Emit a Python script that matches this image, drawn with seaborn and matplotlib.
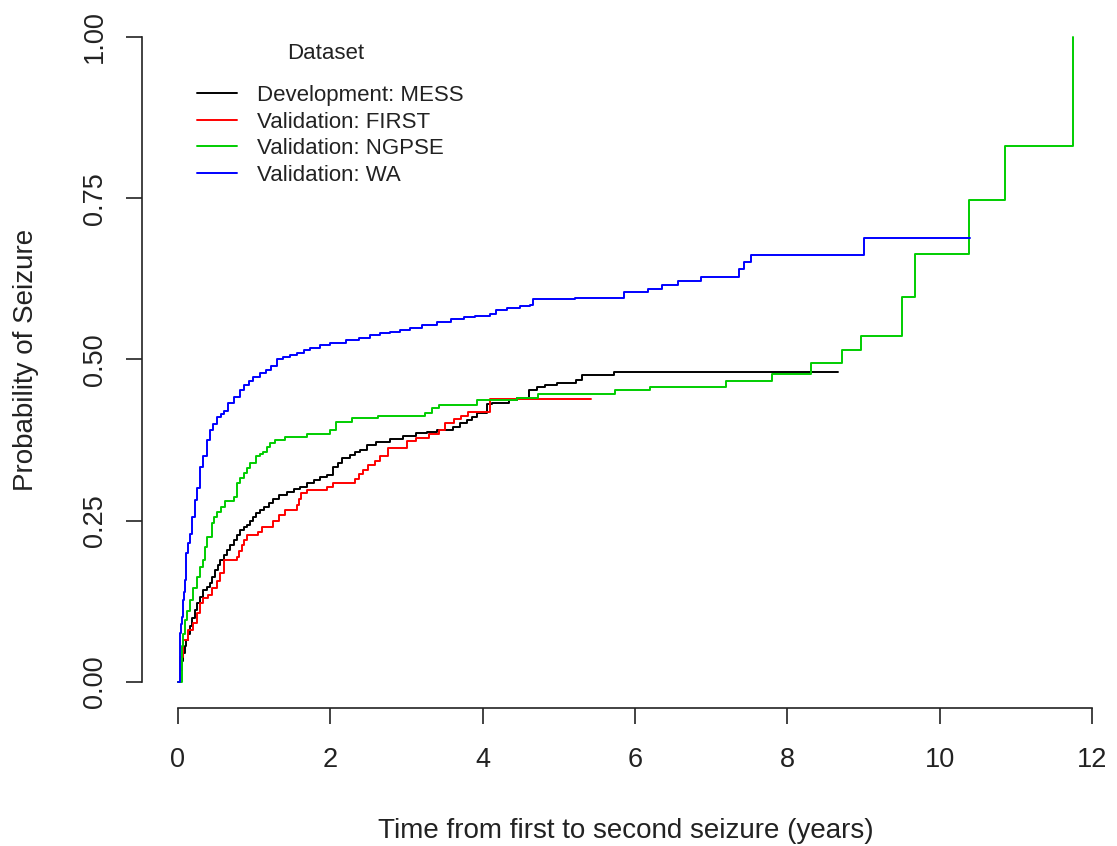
import numpy as np
import pandas as pd
import matplotlib
matplotlib.use("Agg")
import matplotlib.pyplot as plt
import seaborn as sns

# ---------------- data ----------------
datasets = ["Development: MESS", "Validation: FIRST", "Validation: NGPSE", "Validation: WA"]
colors = ["#000000", "#FF0000", "#00CD00", "#0000FF"]

mess_time = [0, 0.03, 0.05, 0.07, 0.09, 0.11, 0.13, 0.16, 0.19, 0.22, 0.25, 0.29, 0.33, 0.38,
             0.42, 0.45, 0.49, 0.52, 0.55, 0.60, 0.64, 0.68, 0.73, 0.77, 0.81, 0.86, 0.90, 0.95,
             0.99, 1.03, 1.08, 1.13, 1.19, 1.25, 1.32, 1.43, 1.52, 1.60, 1.70, 1.78, 1.87, 1.95,
             2.04, 2.10, 2.15, 2.26, 2.33, 2.39, 2.48, 2.60, 2.78, 2.95, 3.13, 3.27, 3.40, 3.61,
             3.70, 3.79, 3.86, 3.92, 4.05, 4.12, 4.34, 4.45, 4.61, 4.71, 4.82, 4.98, 5.23, 5.30,
             5.72, 8.66]
mess_prob = [0, 0.019, 0.032, 0.045, 0.055, 0.065, 0.075, 0.086, 0.099, 0.112, 0.122, 0.132,
             0.143, 0.148, 0.153, 0.163, 0.174, 0.181, 0.189, 0.197, 0.205, 0.212, 0.220, 0.228,
             0.236, 0.240, 0.243, 0.250, 0.256, 0.262, 0.267, 0.272, 0.277, 0.283, 0.290, 0.295,
             0.299, 0.303, 0.308, 0.313, 0.317, 0.321, 0.334, 0.340, 0.347, 0.352, 0.356, 0.360,
             0.368, 0.372, 0.377, 0.381, 0.386, 0.388, 0.391, 0.396, 0.401, 0.406, 0.411, 0.417,
             0.431, 0.433, 0.437, 0.440, 0.452, 0.458, 0.461, 0.463, 0.468, 0.476, 0.481, 0.481]

first_time = [0, 0.03, 0.07, 0.13, 0.20, 0.25, 0.29, 0.33, 0.40, 0.44, 0.51, 0.55, 0.60, 0.77,
              0.80, 0.84, 0.87, 0.90, 1.05, 1.10, 1.25, 1.32, 1.40, 1.56, 1.59, 1.62, 1.69, 1.95,
              2.04, 2.32, 2.38, 2.43, 2.50, 2.59, 2.65, 2.76, 3.00, 3.13, 3.30, 3.42, 3.51, 3.62,
              3.72, 3.81, 4.09, 5.42]
first_prob = [0, 0.039, 0.065, 0.081, 0.091, 0.107, 0.122, 0.130, 0.135, 0.146, 0.156, 0.169,
              0.189, 0.194, 0.203, 0.212, 0.220, 0.228, 0.233, 0.241, 0.249, 0.259, 0.267, 0.274,
              0.284, 0.293, 0.297, 0.302, 0.308, 0.315, 0.322, 0.329, 0.337, 0.342, 0.351, 0.362,
              0.373, 0.379, 0.385, 0.391, 0.402, 0.408, 0.413, 0.419, 0.439, 0.439]

ngpse_time = [0, 0.05, 0.07, 0.09, 0.12, 0.16, 0.20, 0.25, 0.29, 0.33, 0.36, 0.38, 0.44, 0.47,
              0.51, 0.56, 0.62, 0.73, 0.77, 0.81, 0.86, 0.91, 0.95, 1.03, 1.08, 1.12, 1.17, 1.21,
              1.27, 1.40, 1.69, 2.00, 2.08, 2.28, 2.63, 3.24, 3.33, 3.42, 3.92, 4.45, 4.73, 5.74,
              6.20, 7.20, 7.80, 8.31, 8.72, 8.97, 9.50, 9.68, 10.38, 10.86, 11.75]
ngpse_prob = [0, 0.055, 0.075, 0.096, 0.110, 0.127, 0.145, 0.163, 0.178, 0.189, 0.210, 0.225,
              0.246, 0.256, 0.264, 0.272, 0.280, 0.287, 0.308, 0.316, 0.324, 0.332, 0.339, 0.350,
              0.354, 0.357, 0.364, 0.370, 0.375, 0.380, 0.385, 0.391, 0.403, 0.409, 0.412, 0.417,
              0.424, 0.429, 0.437, 0.441, 0.447, 0.453, 0.458, 0.466, 0.478, 0.494, 0.515, 0.536,
              0.597, 0.663, 0.747, 0.831, 1.000]

wa_time = [0, 0.026, 0.04, 0.05, 0.06, 0.07, 0.08, 0.09, 0.10, 0.11, 0.13, 0.16, 0.19, 0.22,
           0.25, 0.29, 0.33, 0.38, 0.42, 0.46, 0.51, 0.56, 0.60, 0.66, 0.73, 0.81, 0.86, 0.93,
           0.99, 1.08, 1.16, 1.22, 1.30, 1.38, 1.47, 1.56, 1.65, 1.73, 1.86, 2.00, 2.21, 2.37,
           2.52, 2.65, 2.78, 2.92, 3.05, 3.20, 3.40, 3.58, 3.75, 3.90, 4.10, 4.18, 4.32, 4.49,
           4.62, 4.66, 5.21, 5.85, 6.17, 6.35, 6.57, 6.87, 7.37, 7.43, 7.52, 9.00, 10.40]
wa_prob = [0, 0.076, 0.090, 0.101, 0.115, 0.127, 0.140, 0.158, 0.175, 0.200, 0.215, 0.230,
           0.255, 0.282, 0.300, 0.333, 0.350, 0.375, 0.390, 0.400, 0.411, 0.416, 0.420, 0.432,
           0.442, 0.453, 0.460, 0.467, 0.473, 0.479, 0.484, 0.490, 0.500, 0.504, 0.507, 0.510,
           0.514, 0.518, 0.522, 0.526, 0.530, 0.534, 0.538, 0.541, 0.543, 0.546, 0.549, 0.553,
           0.558, 0.562, 0.566, 0.568, 0.571, 0.577, 0.580, 0.583, 0.585, 0.593, 0.596, 0.605,
           0.609, 0.616, 0.621, 0.628, 0.640, 0.651, 0.662, 0.689, 0.689]

times = [mess_time, first_time, ngpse_time, wa_time]
probs = [mess_prob, first_prob, ngpse_prob, wa_prob]

xticks = [0, 2, 4, 6, 8, 10, 12]
yticks = [0.00, 0.25, 0.50, 0.75, 1.00]
ytick_labels = ["0.00", "0.25", "0.50", "0.75", "1.00"]
legend_title = "Dataset"
xlabel = "Time from first to second seizure (years)"
ylabel = "Probability of Seizure"

# ---------------- build long table ----------------
frames = [pd.DataFrame({"time": t, "prob": p, "dataset": name})
          for name, t, p in zip(datasets, times, probs)]
df = pd.concat(frames, ignore_index=True)

sns.set_theme(style="ticks")
plt.rcParams["font.family"] = ["Liberation Sans", "DejaVu Sans"]

W, H = 1117, 846
fig = plt.figure(figsize=(W / 100, H / 100), dpi=100)
fig.patch.set_facecolor("white")
ax = fig.add_axes([0.1273, 0.1634, 0.8654, 0.8234])
ax.set_facecolor("white")

sns.lineplot(data=df, x="time", y="prob", hue="dataset", hue_order=datasets,
             palette=colors, estimator=None, sort=False, drawstyle="steps-post",
             linewidth=1.4, ax=ax)

ax.set_xlim(-0.47, 12.22)
ax.set_ylim(-0.04, 1.04)
ax.set_xticks(xticks)
ax.set_xticklabels([str(v) for v in xticks])
ax.set_yticks(yticks)
ax.set_yticklabels(ytick_labels)

for side in ["top", "right"]:
    ax.spines[side].set_visible(False)
for side in ["left", "bottom"]:
    ax.spines[side].set_linewidth(1.2)
    ax.spines[side].set_color("#222222")
ax.spines["bottom"].set_bounds(xticks[0], xticks[-1])
ax.spines["left"].set_bounds(yticks[0], yticks[-1])

ax.tick_params(axis="both", direction="out", length=11.5, width=1.2, color="#222222",
               labelsize=19.5, labelcolor="#222222")
ax.tick_params(axis="x", pad=17)
ax.tick_params(axis="y", pad=13, labelrotation=90)
for lab in ax.get_yticklabels():
    lab.set_va("center")

ax.set_xlabel(xlabel, fontsize=20, color="#222222")
ax.set_ylabel(ylabel, fontsize=20, color="#222222")
ax.xaxis.set_label_coords(0.5, -0.1578)
ax.yaxis.set_label_coords(-0.1066, 0.5)

sns.move_legend(ax, "upper left", bbox_to_anchor=(197 / W, 1 - 85 / H),
                bbox_transform=fig.transFigure, frameon=False, title=None,
                fontsize=16, handlelength=1.8, handletextpad=0.9, labelspacing=0.25,
                borderpad=0, borderaxespad=0)
leg = ax.get_legend()
for txt in leg.get_texts():
    txt.set_color("#222222")

fig.canvas.draw()
bb = leg.get_window_extent()
fig.text(((bb.x0 + bb.x1) / 2 - 5) / W, 1 - 59.3 / H, legend_title, ha="center",
         va="baseline", fontsize=16, color="#222222")

fig.savefig("out.png", dpi=100, facecolor="white")
